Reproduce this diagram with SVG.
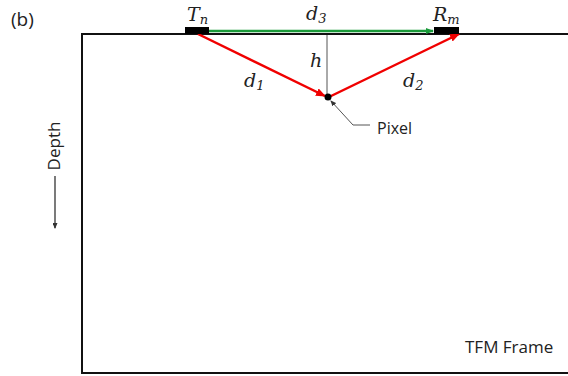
<svg xmlns="http://www.w3.org/2000/svg" width="568" height="376" viewBox="0 0 568 376">
<style>
.sans{font-family:"Open Sans","Liberation Sans",sans-serif;fill:#222}
.math{font-family:"DejaVu Serif","Liberation Serif",serif;font-style:italic;fill:#222}
.sub{font-size:13px}
</style>
<defs>
<marker id="ag" markerWidth="8" markerHeight="6" refX="7" refY="3" orient="auto" markerUnits="userSpaceOnUse"><path d="M0,0 L8,3 L0,6 Z" fill="#1a9a3a"/></marker>
<marker id="ar" markerWidth="10" markerHeight="8" refX="9" refY="4" orient="auto" markerUnits="userSpaceOnUse"><path d="M0,0 L10,4 L0,8 Z" fill="#f00000"/></marker>
<marker id="ak" markerWidth="6" markerHeight="5" refX="5" refY="2.5" orient="auto" markerUnits="userSpaceOnUse"><path d="M0,0 L6,2.5 L0,5 Z" fill="#333"/></marker>
</defs>
<rect width="568" height="376" fill="#fff"/>
<text class="sans" x="11" y="26" font-size="19">(b)</text>
<g id="frame">
<path d="M82,374 V34 H568" fill="none" stroke="#111" stroke-width="2"/>
<path d="M82,373 H568" fill="none" stroke="#111" stroke-width="2"/>
</g>
<g id="connectors">
<line x1="327" y1="35" x2="327" y2="97" stroke="#555" stroke-width="1"/>
<line x1="209" y1="31" x2="433" y2="31" stroke="#1a9a3a" stroke-width="2.5" marker-end="url(#ag)"/>
<line x1="198" y1="34" x2="325" y2="96" stroke="#f00000" stroke-width="2.5" marker-end="url(#ar)"/>
<line x1="329" y1="97" x2="459" y2="34" stroke="#f00000" stroke-width="2.5" marker-end="url(#ar)"/>
<polyline points="370,125 353,125 331,101" fill="none" stroke="#555" stroke-width="1" marker-end="url(#ak)"/>
</g>
<g id="Tn">
<rect x="185" y="27" width="24" height="7" fill="#000"/>
<text class="math" x="187" y="21" font-size="19">T<tspan class="sub" dy="3">n</tspan></text>
</g>
<g id="Rm">
<rect x="434" y="27" width="25" height="7" fill="#000"/>
<text class="math" x="433" y="21" font-size="19">R<tspan class="sub" dy="3">m</tspan></text>
</g>
<g id="pixel">
<circle cx="328" cy="97" r="3.5" fill="#000"/>
<text class="sans" x="377" y="134" font-size="16">Pixel</text>
</g>
<g id="labels">
<text class="math" x="306" y="20" font-size="19">d<tspan class="sub" dy="3">3</tspan></text>
<text class="math" x="310" y="67" font-size="19">h</text>
<text class="math" x="244" y="87" font-size="19">d<tspan class="sub" dy="3">1</tspan></text>
<text class="math" x="403" y="87" font-size="19">d<tspan class="sub" dy="3">2</tspan></text>
</g>
<g id="depth">
<text class="sans" font-size="17" transform="translate(60,146) rotate(-90)" text-anchor="middle">Depth</text>
<line x1="55" y1="176" x2="55" y2="228" stroke="#222" stroke-width="1.2" marker-end="url(#ak)"/>
</g>
<text class="sans" x="465" y="353" font-size="17">TFM Frame</text>
</svg>
